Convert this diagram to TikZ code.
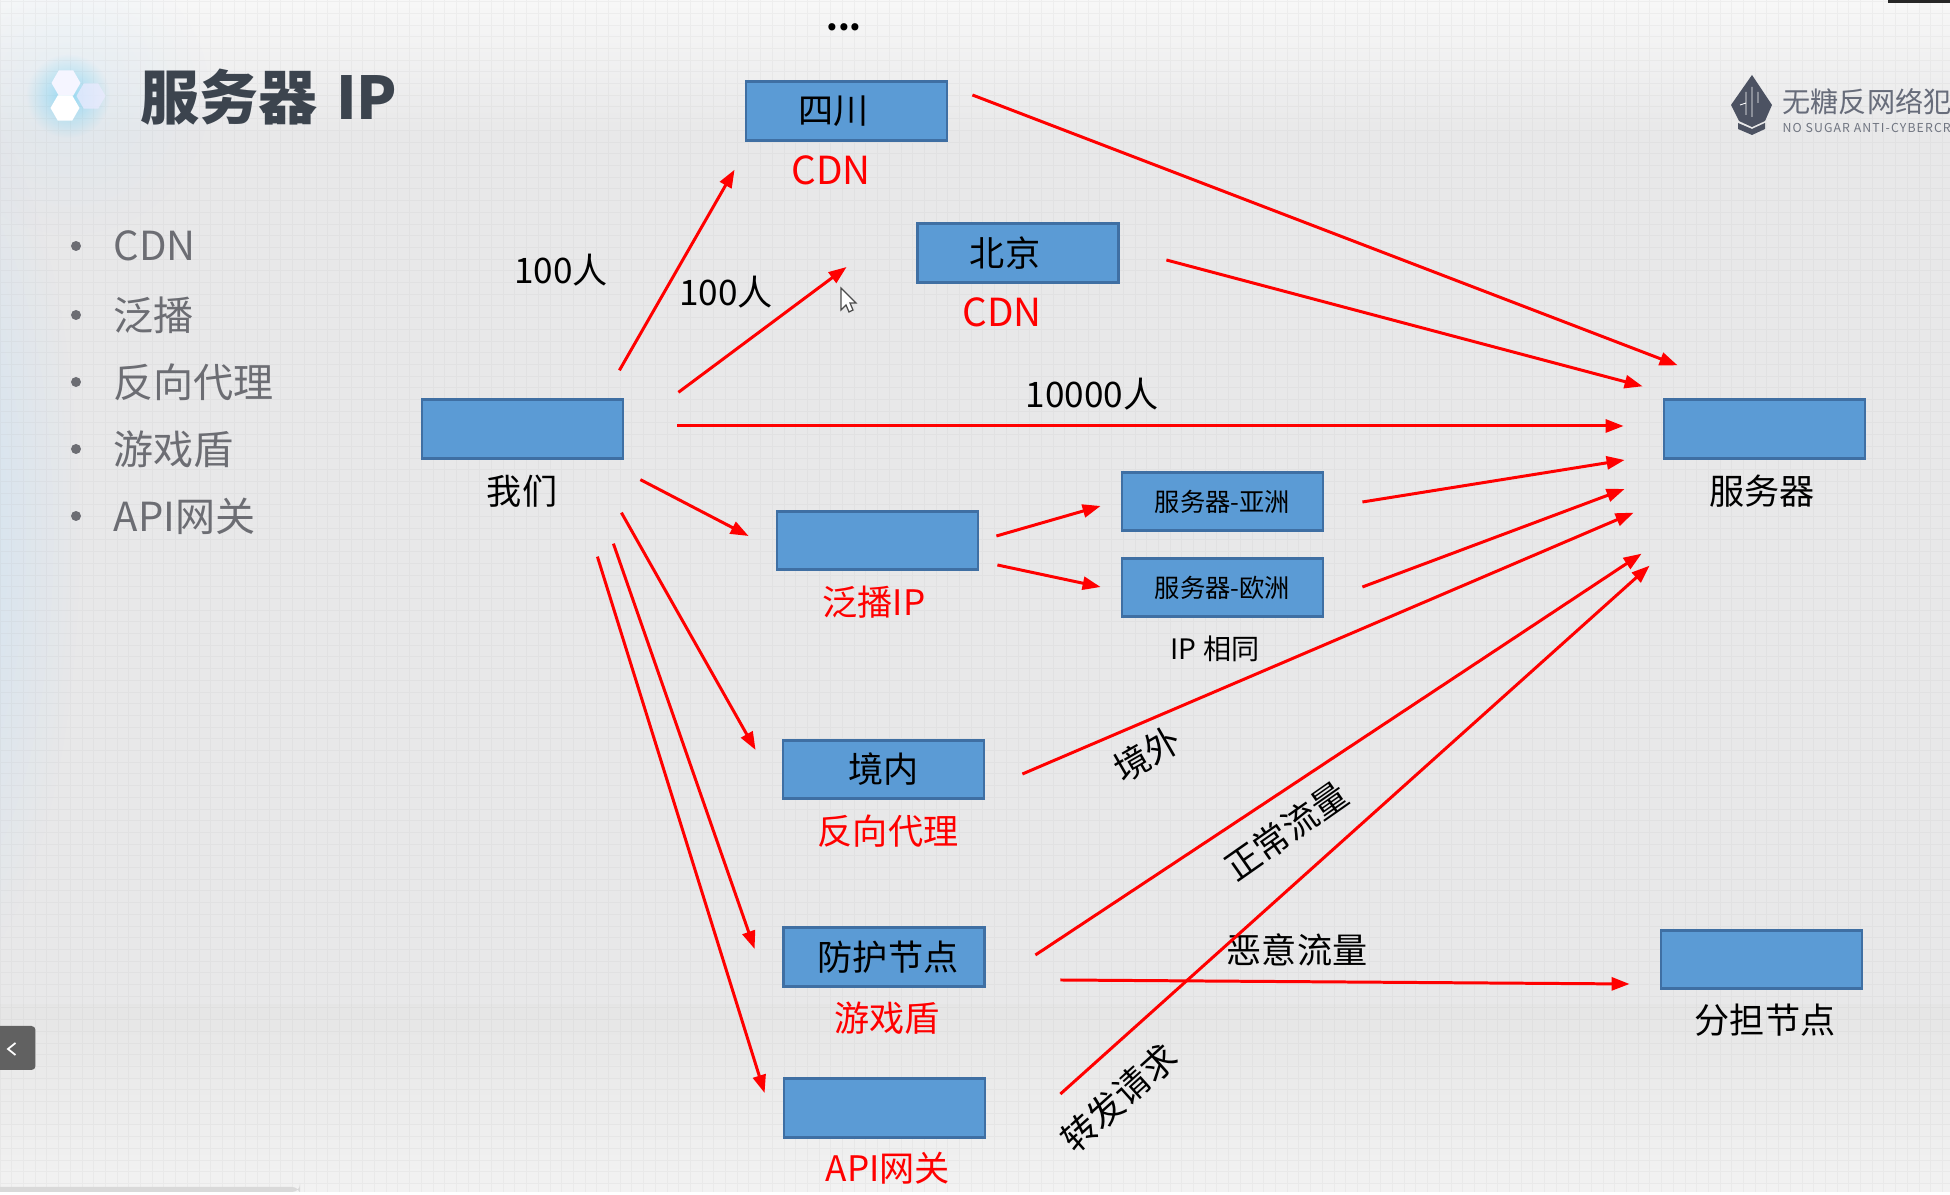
\documentclass[tikz,border=0pt]{standalone}
\usepackage{fontspec}
\setmainfont{Noto Sans CJK SC}
\usepackage{tikz}
\usetikzlibrary{arrows.meta}
\usetikzlibrary{fadings}
\definecolor{boxblue}{HTML}{5B9BD5}
\definecolor{boxedge}{HTML}{3F6FA3}
\definecolor{titlegrey}{HTML}{3C444E}
\definecolor{listgrey}{HTML}{6C6D73}
\definecolor{logogrey}{HTML}{4C5262}
\definecolor{wallgrey}{HTML}{E8E8E9}
\tikzfading[name=softglow, inner color=transparent!0, outer color=transparent!100]
\tikzstyle{box} = [draw=boxedge,fill=boxblue,line width=0.8pt,minimum width=2.01cm,minimum height=0.585cm,inner sep=0pt,font=\fontsize{10pt}{12pt}\selectfont]
\tikzstyle{smallbox} = [box,font=\fontsize{7.2pt}{9pt}\selectfont]
\tikzstyle{lbl} = [inner sep=0pt,font=\fontsize{10pt}{12pt}\selectfont]
\tikzstyle{redlbl} = [lbl,text=red]
\tikzstyle{item} = [inner sep=0pt,anchor=west,text=listgrey,font=\fontsize{11.4pt}{13pt}\selectfont]
\tikzstyle{dot} = [inner sep=0pt,minimum size=0.1cm,circle,fill=listgrey]
\tikzstyle{link} = [red,line width=0.85pt,-{Triangle[length=0.18cm,width=0.13cm]}]

\begin{document}
\begin{tikzpicture}
\useasboundingbox (0,0) rectangle (19.5,11.95);
% background
\fill[wallgrey] (0,0) rectangle (19.5,11.95);
\shade[top color=black!3,bottom color=wallgrey] (0,10.6) rectangle (19.5,11.95);
\shade[bottom color=black!5,top color=black!10] (0,0) rectangle (19.5,1.9);
\fill[blue!45!cyan!30,opacity=0.5,path fading=softglow] (-0.7,6.6) ellipse (1.5 and 4.6);
\fill[blue!40!cyan!25,opacity=0.22,path fading=softglow] (0.7,11.0) circle (1.4);
\draw[black!30,line width=0.2pt,opacity=0.12] (0,0) grid[xstep=0.117,ystep=0.117] (19.5,11.95);

% title block
\fill[cyan!60,opacity=0.6,path fading=softglow] (0.68,10.99) circle (0.42);
\fill[blue!4!white] (0.66,11.12) +(0:0.145) -- +(60:0.145) -- +(120:0.145) -- +(180:0.145) -- +(240:0.145) -- +(300:0.145) -- cycle;
\fill[blue!8!white,opacity=0.75] (0.91,10.99) +(0:0.145) -- +(60:0.145) -- +(120:0.145) -- +(180:0.145) -- +(240:0.145) -- +(300:0.145) -- cycle;
\fill[white] (0.65,10.87) +(0:0.145) -- +(60:0.145) -- +(120:0.145) -- +(180:0.145) -- +(240:0.145) -- +(300:0.145) -- cycle;
\draw(1.40,10.98) node[inner sep=0pt,anchor=west,text=titlegrey,font=\fontsize{16.8pt}{19pt}\selectfont\bfseries] (title) {服务器\hspace{0.05cm} IP};

% list on the left
\draw(0.76,9.49) node[dot] (d1) {};
\draw(0.76,8.80) node[dot] (d2) {};
\draw(0.76,8.13) node[dot] (d3) {};
\draw(0.76,7.46) node[dot] (d4) {};
\draw(0.76,6.79) node[dot] (d5) {};
\draw(1.13,9.49) node[item] (i1) {CDN};
\draw(1.13,8.80) node[item] (i2) {泛播};
\draw(1.13,8.13) node[item] (i3) {反向代理};
\draw(1.13,7.46) node[item] (i4) {游戏盾};
\draw(1.13,6.79) node[item] (i5) {API网关};

% logo
\fill[logogrey] (17.52,11.20) -- (17.72,10.90) -- (17.65,10.74) -- (17.52,10.68) -- (17.39,10.74) -- (17.31,10.90) -- cycle;
\fill[logogrey] (17.38,10.72) -- (17.52,10.66) -- (17.65,10.72) -- (17.65,10.66) -- (17.52,10.60) -- (17.38,10.66) -- cycle;
\draw[white,line width=0.25pt] (17.46,10.80) -- (17.46,11.03) (17.52,10.78) -- (17.52,11.08) (17.58,10.92) -- (17.58,11.03) (17.40,10.90) -- (17.46,10.92);
\draw(17.82,10.93) node[inner sep=0pt,anchor=west,text=logogrey!85,font=\fontsize{8pt}{9pt}\selectfont] (logo) {无糖反网络犯};
\draw(17.82,10.67) node[inner sep=0pt,anchor=west,text=logogrey!80,font=\fontsize{3.5pt}{4pt}\selectfont\addfontfeature{LetterSpace=9}] (logoen) {NO SUGAR ANTI-CYBERCR};

% boxes
\draw(8.465,10.84) node[box] (sichuan) {\hspace*{-0.26cm}四川};
\draw(10.18,9.42) node[box] (beijing) {\hspace*{-0.26cm}北京};
\draw(5.225,7.66) node[box] (mine) {};
\draw(17.645,7.66) node[box] (server) {};
\draw(8.775,6.545) node[box] (anycast) {};
\draw(12.225,6.935) node[smallbox] (asia) {服务器-亚洲};
\draw(12.225,6.075) node[smallbox] (europe) {服务器-欧洲};
\draw(8.835,4.255) node[box] (inland) {境内};
\draw(8.84,2.38) node[box] (guard) {\hspace*{0.08cm}防护节点};
\draw(8.845,0.87) node[box] (apigw) {};
\draw(17.615,2.355) node[box] (share) {};

% labels
\draw(8.31,10.25) node[redlbl,font=\fontsize{11pt}{12pt}\selectfont] (cdn1) {CDN};
\draw(10.02,8.83) node[redlbl,font=\fontsize{11pt}{12pt}\selectfont] (cdn2) {CDN};
\draw(5.22,7.04) node[lbl] (minelbl) {我们};
\draw(17.62,7.04) node[lbl] (serverlbl) {服务器};
\draw(8.74,5.93) node[redlbl] (anycastlbl) {泛播IP};
\draw(12.15,5.46) node[lbl,font=\fontsize{8pt}{10pt}\selectfont] (same) {IP 相同};
\draw(8.88,3.64) node[redlbl] (rproxy) {反向代理};
\draw(8.87,1.77) node[redlbl] (shield) {游戏盾};
\draw(8.88,0.27) node[redlbl] (apilbl) {API网关};
\draw(17.65,1.75) node[lbl] (sharelbl) {分担节点};
\draw(5.61,9.25) node[lbl] (n1) {100人};
\draw(7.26,9.03) node[lbl] (n2) {100人};
\draw(10.92,8.01) node[lbl] (n3) {10000人};
\draw(11.47,4.41) node[lbl,rotate=30] (abroad) {境外};
\draw(12.86,3.64) node[lbl,rotate=35] (normal) {正常流量};
\draw(12.97,2.45) node[lbl] (bad) {恶意流量};
\draw(11.19,0.97) node[lbl,rotate=42] (fwd) {转发请求};

% arrows
\draw[link] ([shift={(-0.05,0.28)}]mine.north east) -- ([shift={(-0.10,-0.28)}]sichuan.south west);
\draw[link] ([shift={(0.54,0.06)}]mine.north east) -- ([shift={(-0.695,-0.14)}]beijing.west);
\draw[link] ([shift={(0.53,0.03)}]mine.east) -- ([shift={(-0.39,0.03)}]server.west);
\draw[link] ([shift={(0.16,-0.20)}]mine.south east) -- ([shift={(-0.27,0.045)}]anycast.west);
\draw[link] ([shift={(-0.03,-0.53)}]mine.south east) -- ([shift={(-0.26,0.195)}]inland.west);
\draw[link] ([shift={(-0.11,-0.84)}]mine.south east) -- ([shift={(-0.275,0.08)}]guard.west);
\draw[link] ([shift={(-0.27,-0.97)}]mine.south east) -- ([shift={(-0.18,0.15)}]apigw.west);
\draw[link] ([shift={(0.24,0.16)}]sichuan.east) -- ([shift={(0.15,0.33)}]server.north west);
\draw[link] ([shift={(0.465,-0.07)}]beijing.east) -- ([shift={(-0.20,0.12)}]server.north west);
\draw[link] ([shift={(0.17,0.045)}]anycast.east) -- ([shift={(-0.20,-0.045)}]asia.west);
\draw[link] ([shift={(0.18,-0.245)}]anycast.east) -- ([shift={(-0.20,0.005)}]europe.west);
\draw[link] ([shift={(0.38,-0.005)}]asia.east) -- ([shift={(-0.38,-0.31)}]server.west);
\draw[link] ([shift={(0.38,0.005)}]europe.east) -- ([shift={(-0.38,-0.60)}]server.west);
\draw[link] ([shift={(0.37,-0.045)}]inland.east) -- ([shift={(-0.29,-0.53)}]server.south west);
\draw[link] ([shift={(0.495,0.02)}]guard.east) -- ([shift={(-0.21,-0.94)}]server.south west);
\draw[link] ([shift={(0.745,-0.23)}]guard.east) -- ([shift={(-0.30,-0.245)}]share.west);
\draw[link] ([shift={(0.74,0.14)}]apigw.east) -- ([shift={(-0.13,-1.06)}]server.south west);

% screen furniture
\draw(8.44,11.68) node[inner sep=0pt,font=\fontsize{9.5pt}{10pt}\selectfont\bfseries] (more) {...};
\fill[white,draw=black!70,line width=0.35pt] (8.41,9.07) -- (8.41,8.85) -- (8.46,8.90) -- (8.49,8.83) -- (8.53,8.85) -- (8.50,8.92) -- (8.56,8.92) -- cycle;
\fill[black!62,rounded corners=0.04cm] (-0.1,1.25) rectangle (0.355,1.69);
\draw[white,line width=0.5pt] (0.155,1.52) -- (0.08,1.46) -- (0.155,1.40);
\fill[black!15,rounded corners=0.08cm] (-0.1,0.03) rectangle (3.0,0.08);
\fill[white] (0,0) rectangle (19.5,0.03);
\fill[black!85] (18.88,11.92) rectangle (19.5,11.95);
\end{tikzpicture}
\end{document}
